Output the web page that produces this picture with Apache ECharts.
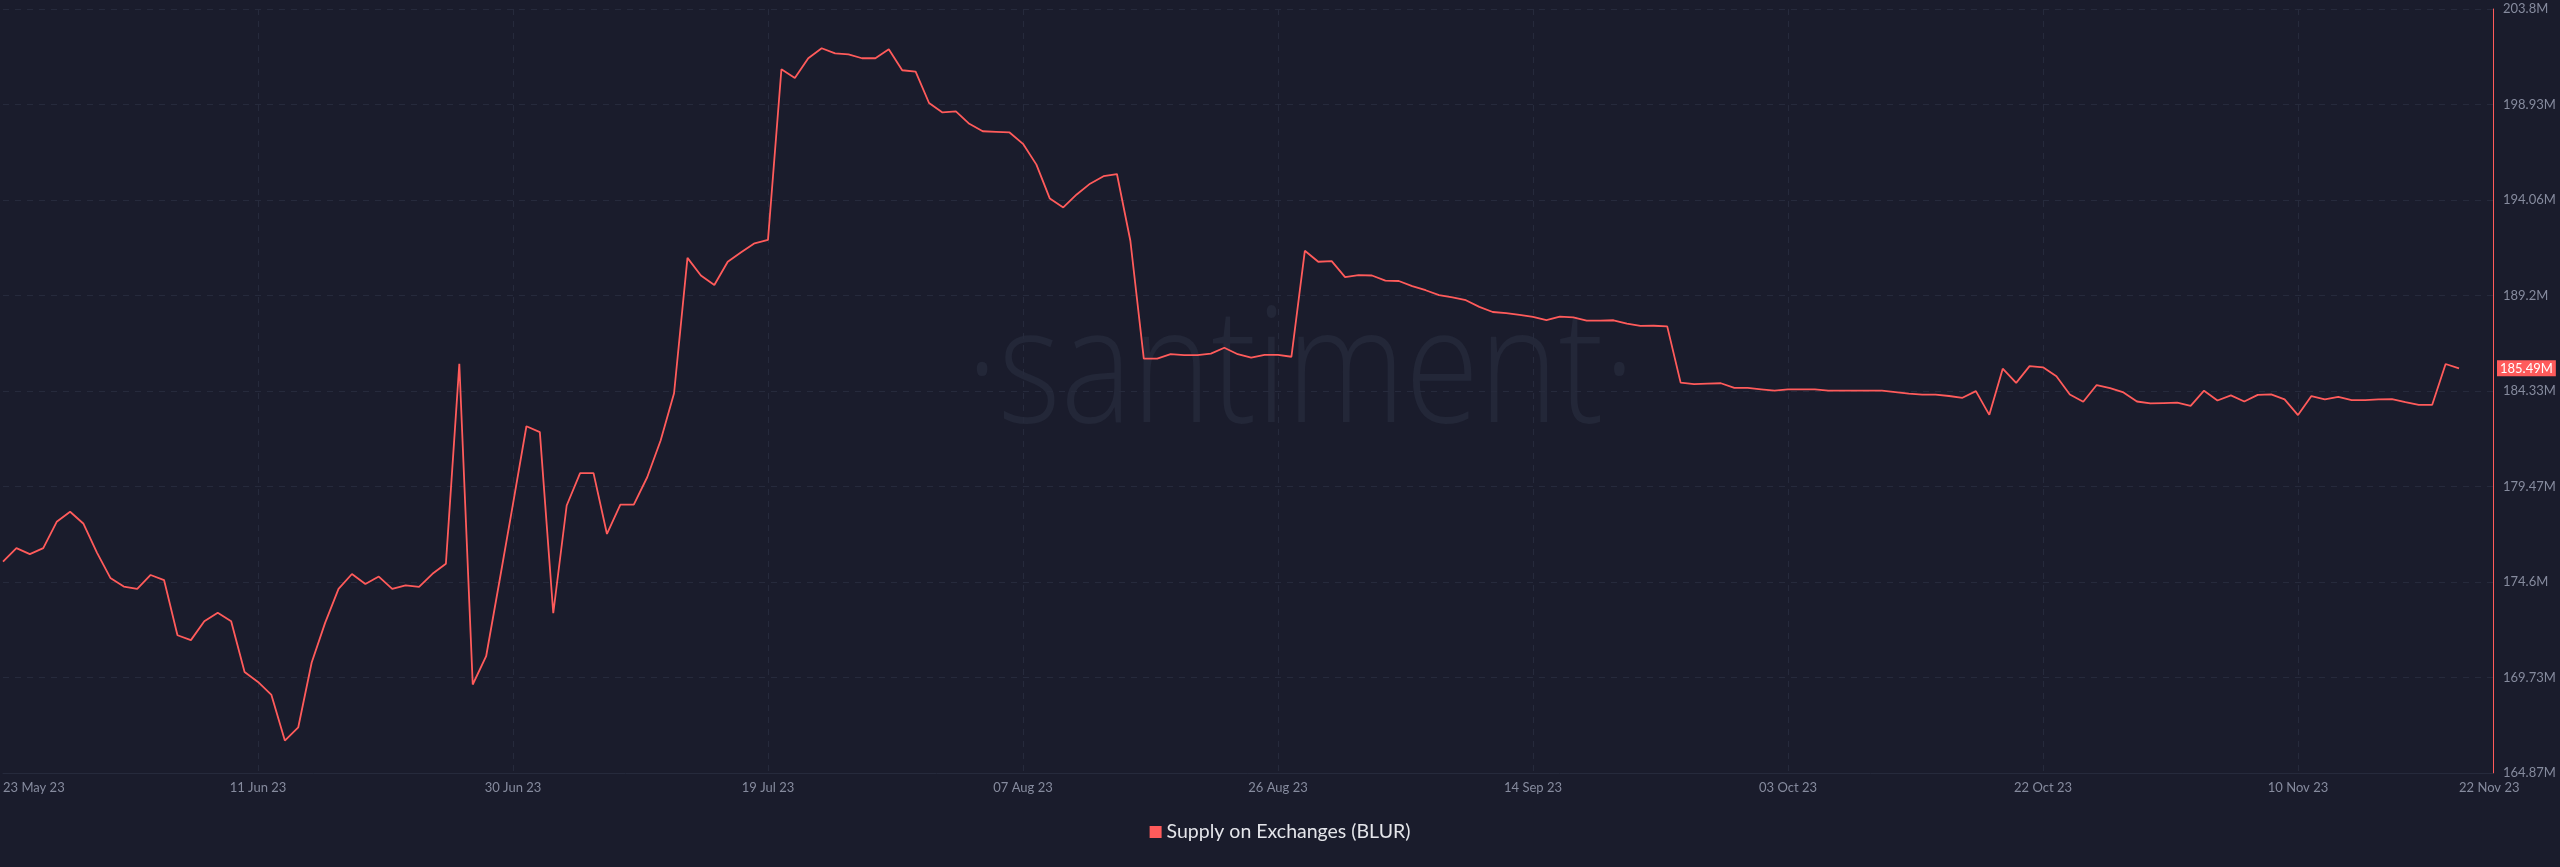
<!DOCTYPE html>
<html>
<head>
<meta charset="utf-8">
<script src="https://cdn.jsdelivr.net/npm/echarts@6/dist/echarts.min.js"></script>
<style>
  html, body { margin: 0; padding: 0; background: #1a1c2c; }
  #chart { width: 2560px; height: 867px; }
</style>
</head>
<body>
<div id="chart"></div>
<script>
// ---- DATA ----
const seriesName = 'Supply on Exchanges (BLUR)';
const startDate = '2023-05-23';           // first daily point
// Supply on exchanges, millions of BLUR, one value per day
const supplyM = [
  175.64, 176.33, 176.02, 176.33, 177.67, 178.18, 177.57, 176.10, 174.81, 174.37,
  174.25, 174.96, 174.70, 171.89, 171.64, 172.60, 173.03, 172.60, 170.02, 169.51,
  168.85, 166.52, 167.20, 170.50, 172.52, 174.25, 175.01, 174.50, 174.88, 174.25,
  174.43, 174.35, 175.02, 175.53, 185.72, 169.38, 170.82, 174.68, 178.58, 182.54,
  182.24, 173.01, 178.50, 180.15, 180.15, 177.05, 178.55, 178.55, 179.94, 181.81,
  184.22, 191.12, 190.22, 189.74, 190.92, 191.41, 191.86, 192.04, 200.73, 200.28,
  201.29, 201.80, 201.54, 201.49, 201.29, 201.29, 201.75, 200.68, 200.61, 199.01,
  198.53, 198.58, 197.95, 197.57, 197.54, 197.51, 196.93, 195.87, 194.14, 193.69,
  194.35, 194.90, 195.28, 195.39, 191.99, 185.98, 185.98, 186.21, 186.16, 186.16,
  186.24, 186.54, 186.21, 186.03, 186.18, 186.18, 186.08, 191.48, 190.92, 190.95,
  190.14, 190.24, 190.22, 189.96, 189.94, 189.68, 189.47, 189.22, 189.10, 188.96,
  188.62, 188.36, 188.30, 188.21, 188.11, 187.95, 188.12, 188.09, 187.92, 187.92,
  187.94, 187.77, 187.65, 187.66, 187.63, 184.76, 184.69, 184.71, 184.73, 184.49,
  184.49, 184.42, 184.35, 184.42, 184.42, 184.42, 184.35, 184.35, 184.35, 184.35,
  184.35, 184.28, 184.20, 184.15, 184.15, 184.08, 183.99, 184.33, 183.12, 185.47,
  184.75, 185.60, 185.54, 185.09, 184.16, 183.79, 184.64, 184.48, 184.26, 183.80,
  183.70, 183.72, 183.74, 183.58, 184.35, 183.85, 184.11, 183.80, 184.14, 184.16,
  183.91, 183.11, 184.08, 183.91, 184.04, 183.87, 183.87, 183.91, 183.92, 183.77,
  183.63, 183.63, 185.71, 185.49
];
const xLabelDates = ['2023-05-23','2023-06-11','2023-06-30','2023-07-19','2023-08-07',
  '2023-08-26','2023-09-14','2023-10-03','2023-10-22','2023-11-10','2023-11-22'];
const xGridDates = ['2023-06-11','2023-06-30','2023-07-19','2023-08-07',
  '2023-08-26','2023-09-14','2023-10-03','2023-10-22','2023-11-10'];
const yTickLabels = [164.87, 169.73, 174.6, 179.47, 184.33, 189.2, 194.06, 198.93, 203.8];

// ---- BUILD ----
const DAY = 86400000;
const toTs = s => { const p = s.split('-').map(Number); return Date.UTC(p[0], p[1] - 1, p[2]); };
const t0 = toTs(startDate);
const points = supplyM.map((v, i) => [t0 + i * DAY, v]);
const lastValue = supplyM[supplyM.length - 1];
const MONTHS = ['Jan','Feb','Mar','Apr','May','Jun','Jul','Aug','Sep','Oct','Nov','Dec'];
const fmtDate = v => {
  const d = new Date(v);
  const dd = String(d.getUTCDate()).padStart(2, '0');
  return dd + ' ' + MONTHS[d.getUTCMonth()] + ' ' + String(d.getUTCFullYear()).slice(2);
};
const fmtM = v => (+(+v).toFixed(2)) + 'M';

const RED = '#ff5b5b';
const chart = echarts.init(document.getElementById('chart'), null, { renderer: 'canvas' });
chart.setOption({
  backgroundColor: '#1a1c2c',
  animation: false,
  textStyle: { fontFamily: 'Lato, "Open Sans", sans-serif' },
  graphic: [{
    type: 'text',
    left: 966, top: 296,
    z: -1,
    scaleX: 0.84,
    style: {
      text: '\u00b7santiment\u00b7',
      fontFamily: '"Open Sans", sans-serif',
      fontWeight: 300,
      fontSize: 160,
      fill: '#232738'
    }
  }],
  grid: { left: 0, right: 67, top: 9, bottom: 94, containLabel: false },
  legend: {
    bottom: 20,
    left: 'center',
    icon: 'rect',
    itemWidth: 12, itemHeight: 12, itemGap: 6,
    textStyle: { color: '#e4e5ea', fontSize: 19.5 },
    data: [seriesName]
  },
  xAxis: {
    type: 'value',
    min: t0,
    max: t0 + 185.53 * DAY,
    axisLine: { show: true, lineStyle: { color: '#262a3c', width: 1 } },
    axisTick: { show: false, customValues: xGridDates.map(toTs) },
    splitLine: { show: true, lineStyle: { color: '#262a3c', type: [6, 6], width: 1 } },
    axisLabel: {
      customValues: xLabelDates.map(toTs),
      formatter: fmtDate,
      color: '#868b9e',
      fontSize: 13,
      margin: 8,
      alignMinLabel: 'left',
      alignMaxLabel: 'left',
      hideOverlap: false
    }
  },
  yAxis: {
    type: 'value',
    position: 'right',
    min: yTickLabels[0],
    max: yTickLabels[yTickLabels.length - 1],
    axisLine: { show: true, lineStyle: { color: RED, width: 1 } },
    axisTick: { show: false, customValues: yTickLabels },
    splitLine: { show: true, lineStyle: { color: '#262a3c', type: [6, 6], width: 1 } },
    axisLabel: {
      customValues: yTickLabels,
      formatter: fmtM,
      color: '#868b9e',
      fontSize: 13,
      margin: 10
    }
  },
  series: [{
    name: seriesName,
    type: 'line',
    data: points,
    showSymbol: false,
    symbol: 'none',
    itemStyle: { color: RED },
    lineStyle: { color: RED, width: 1.8 },
    markLine: {
      silent: true,
      symbol: 'none',
      lineStyle: { color: 'rgba(0,0,0,0)', width: 0 },
      label: {
        show: true,
        position: 'end',
        distance: 4,
        formatter: () => fmtM(lastValue),
        backgroundColor: RED,
        color: '#ffffff',
        fontSize: 13,
        padding: [2, 3, 1, 3]
      },
      data: [{ yAxis: lastValue }]
    }
  }]
});
</script>
</body>
</html>
